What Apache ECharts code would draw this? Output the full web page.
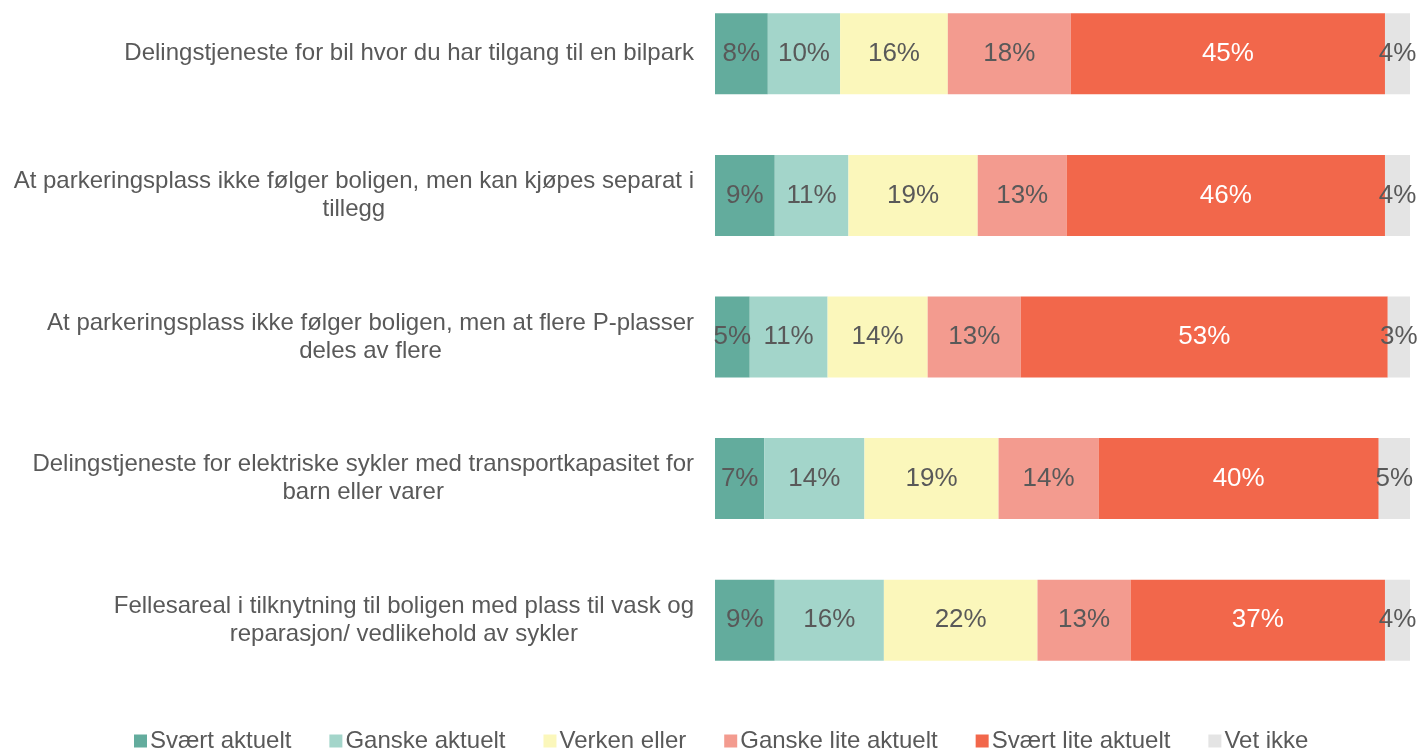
<!DOCTYPE html>
<html>
<head>
<meta charset="utf-8">
<script src="https://cdn.jsdelivr.net/npm/echarts@6/dist/echarts.min.js"></script>
<style>
  html, body { margin: 0; padding: 0; background: #fff; }
  #chart { width: 1420px; height: 750px; }
</style>
</head>
<body>
<div id="chart"></div>
<script>
// kategorier (linjeskift som i originalen)
const categories = [
  'Delingstjeneste for bil hvor du har tilgang til en bilpark',
  'At parkeringsplass ikke følger boligen, men kan kjøpes separat i\ntillegg',
  'At parkeringsplass ikke følger boligen, men at flere P-plasser\ndeles av flere',
  'Delingstjeneste for elektriske sykler med transportkapasitet for\nbarn eller varer',
  'Fellesareal i tilknytning til boligen med plass til vask og\nreparasjon/ vedlikehold av sykler'
];
const seriesNames = ['Svært aktuelt', 'Ganske aktuelt', 'Verken eller', 'Ganske lite aktuelt', 'Svært lite aktuelt', 'Vet ikke'];

// andeler i prosent, lest av figuren
const sværtAktuelt = [7.6, 8.6, 5.0, 7.1, 8.6];
const ganskeAktuelt = [10.4, 10.6, 11.2, 14.4, 15.7];
const verkenEller = [15.5, 18.6, 14.4, 19.3, 22.1];
const ganskeLiteAktuelt = [17.7, 12.8, 13.4, 14.4, 13.4];
const sværtLiteAktuelt = [45.2, 45.8, 52.8, 40.3, 36.6];
const vetIkke = [3.6, 3.6, 3.2, 4.5, 3.6];

const values = [sværtAktuelt, ganskeAktuelt, verkenEller, ganskeLiteAktuelt, sværtLiteAktuelt, vetIkke];
const colors = ['#63ac9d', '#a3d5ca', '#fbf7bb', '#f39b8f', '#f2674b', '#e4e4e4'];
const labelColors = ['#595959', '#595959', '#595959', '#595959', '#ffffff', '#595959'];

const chart = echarts.init(document.getElementById('chart'));

const option = {
  backgroundColor: '#ffffff',
  animation: false,
  textStyle: { fontFamily: '"Liberation Sans", Arial, sans-serif' },
  grid: {
    left: 715,
    right: 10,
    top: -17,
    bottom: 59,
    outerBoundsMode: 'none'
  },
  legend: {
    data: seriesNames,
    left: 129,
    top: 724,
    icon: 'rect',
    itemWidth: 13,
    itemHeight: 13,
    itemGap: 38,
    textStyle: { color: '#595959', fontSize: 24, padding: [0, 0, 0, -2] }
  },
  xAxis: {
    type: 'value',
    min: 0,
    max: 100,
    show: false
  },
  yAxis: {
    type: 'category',
    data: categories,
    inverse: true,
    axisLine: { show: false },
    axisTick: { show: false },
    axisLabel: {
      margin: 21,
      color: '#595959',
      fontSize: 24,
      lineHeight: 28,
      // hver linje sentreres innenfor tekstblokken
      formatter: (v) => v.split('\n').map(s => '{c|' + s + '}').join('\n'),
      rich: {
        c: { align: 'center', fontSize: 24, lineHeight: 28, color: '#595959' }
      }
    }
  },
  series: seriesNames.map((name, i) => ({
    name: name,
    type: 'bar',
    stack: 'total',
    barWidth: 81,
    data: values[i],
    itemStyle: { color: colors[i] },
    label: {
      show: true,
      position: 'inside',
      color: labelColors[i],
      fontSize: 26,
      formatter: (p) => Math.round(p.value) + '%'
    }
  }))
};

chart.setOption(option);
</script>
</body>
</html>
